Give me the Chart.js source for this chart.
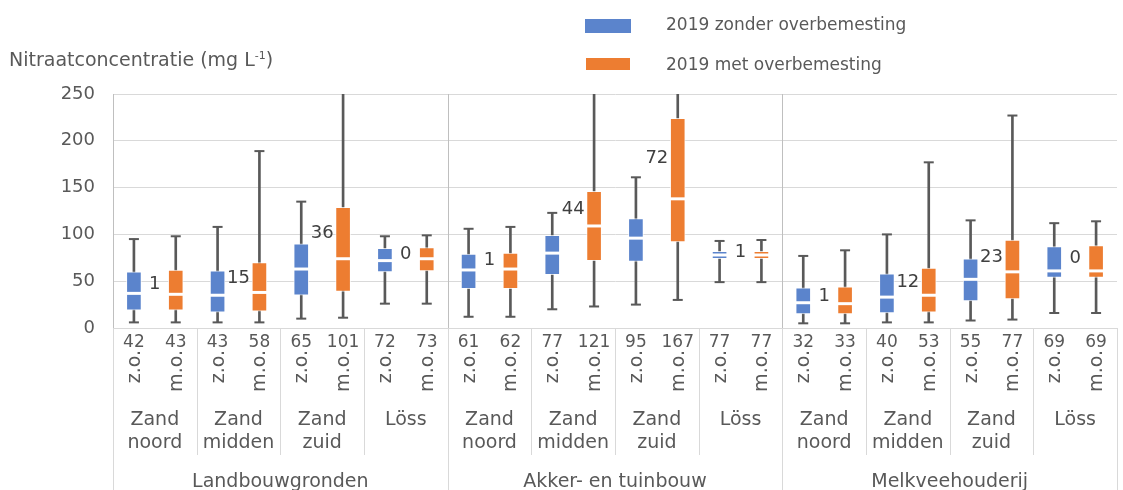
<!DOCTYPE html>
<html>
<head>
<meta charset="utf-8">
<script src="https://cdn.jsdelivr.net/npm/chart.js@4"></script>
<style>
  html, body { margin: 0; padding: 0; background: #fff; overflow: hidden; }
  #wrap { position: relative; width: 1128px; height: 490px; font-family: "DejaVu Sans", Verdana, sans-serif; color: #595959; }
  #c { position: absolute; left: 0; top: 0; }
  .txt { position: absolute; font-size: 17px; line-height: 22px; white-space: nowrap; }
  .title { font-size: 19px; }
  .title sup { font-size: 11px; vertical-align: 7px; line-height: 0; }
  .swatch { position: absolute; }
</style>
</head>
<body>
<div id="wrap">
  <canvas id="c" width="1128" height="490"></canvas>
  <div class="txt title" style="left:9px; top:48px;">Nitraatconcentratie (mg L<sup>-1</sup>)</div>
  <div class="swatch" style="left:585px; top:19px; width:46px; height:14px; background:#5b84cc;"></div>
  <div class="txt" style="left:666px; top:13px;">2019 zonder overbemesting</div>
  <div class="swatch" style="left:586px; top:58px; width:44px; height:12px; background:#ed7d31;"></div>
  <div class="txt" style="left:666px; top:53px;">2019 met overbemesting</div>
</div>
<script>
// categories
const groups     = ['Landbouwgronden', 'Akker- en tuinbouw', 'Melkveehouderij'];
const regions    = [['Zand', 'noord'], ['Zand', 'midden'], ['Zand', 'zuid'], ['Löss']];
const treatments = ['z.o.', 'm.o.'];

// number of samples per box (shown under the axis)
const counts = [42, 43, 43, 58, 65, 101, 72, 73,
                61, 62, 77, 121, 95, 167, 77, 77,
                32, 33, 40, 53, 55, 77, 69, 69];

// box plot values (mg/L), z.o. / m.o. alternating; whiskers above 250 run off the chart
const minVals = [6, 6, 6, 6, 10, 11, 26, 26,
                 12, 12, 20, 23, 25, 30, 49, 49,
                 5, 5, 6, 6, 8, 9, 16, 16];
const q1Vals  = [19, 19, 17, 18, 35, 39, 60, 61,
                 42, 42, 57, 72, 71, 92, 74, 74,
                 15, 15, 16, 17, 29, 31, 54, 54];
const medVals = [37, 36, 35, 38, 63, 74, 72, 74,
                 62, 63, 80, 109, 96, 138, 78, 78,
                 27, 26, 33, 35, 52, 60, 61, 61];
const q3Vals  = [60, 62, 61, 70, 90, 129, 85, 86,
                 79, 80, 99, 146, 117, 224, 82, 82,
                 43, 44, 58, 64, 74, 94, 87, 88];
const maxVals = [95, 98, 108, 189, 135, 280, 98, 99,
                 106, 108, 123, 280, 161, 280, 93, 94,
                 77, 83, 100, 177, 115, 227, 112, 114];

// label between each pair and the value level it sits at
const pairLabels = ['1', '15', '36', '0', '1', '44', '72', '1', '1', '12', '23', '0'];
const pairLabelY = [47, 53, 101, 79, 72, 127, 181, 81, 34, 49, 76, 74];

const yTicks = [0, 50, 100, 150, 200, 250];

const BLUE = '#5b84cc', ORANGE = '#ed7d31', INK = '#595959';
const FONT = '"DejaVu Sans", Verdana, sans-serif';

const labels = counts.map(n => String(n));
const boxColors = counts.map((n, i) => i % 2 ? ORANGE : BLUE);

const axisLabels = {
  id: 'axisLabels',
  beforeDatasetsDraw(chart) {
    const ctx = chart.ctx, x = chart.scales.x, a = chart.chartArea;
    const step = x.getPixelForValue(1) - x.getPixelForValue(0);
    ctx.save();
    ctx.strokeStyle = '#bfbfbf';
    ctx.lineWidth = 1;
    for (let i = 8; i < counts.length; i += 8) {
      const px = Math.round(x.getPixelForValue(i) - step / 2) + 0.5;
      ctx.beginPath(); ctx.moveTo(px, a.top); ctx.lineTo(px, a.bottom); ctx.stroke();
    }
    ctx.restore();
  },
  afterDraw(chart) {
    const ctx = chart.ctx, x = chart.scales.x, y = chart.scales.y, a = chart.chartArea;
    const step = x.getPixelForValue(1) - x.getPixelForValue(0);
    const edge = i => x.getPixelForValue(i) - step / 2;
    ctx.save();

    // separators under the axis
    ctx.strokeStyle = '#d9d9d9';
    ctx.lineWidth = 1;
    for (let i = 0; i <= counts.length; i += 2) {
      const px = Math.round(edge(i)) + 0.5;
      const end = i % 8 === 0 ? chart.height : 455;
      ctx.beginPath(); ctx.moveTo(px, a.bottom); ctx.lineTo(px, end); ctx.stroke();
    }

    ctx.fillStyle = INK;
    ctx.font = '19px ' + FONT;

    // z.o. / m.o. rotated
    counts.forEach((n, i) => {
      ctx.save();
      ctx.translate(x.getPixelForValue(i) + 1, 350);
      ctx.rotate(-Math.PI / 2);
      ctx.textAlign = 'right';
      ctx.textBaseline = 'middle';
      ctx.fillText(treatments[i % 2], 0, 0);
      ctx.restore();
    });

    // region labels
    ctx.textAlign = 'center';
    ctx.textBaseline = 'middle';
    for (let k = 0; k < counts.length / 2; k++) {
      const cx = (edge(2 * k) + edge(2 * k + 2)) / 2;
      regions[k % 4].forEach((line, j) => ctx.fillText(line, cx, 420 + j * 23));
    }

    // group labels
    groups.forEach((g, k) => {
      const cx = (edge(8 * k) + edge(8 * k + 8)) / 2;
      ctx.fillText(g, cx, 482);
    });

    // labels between the pairs
    ctx.fillStyle = '#404040';
    ctx.font = '18px ' + FONT;
    pairLabels.forEach((t, k) => {
      const cx = (x.getPixelForValue(2 * k) + x.getPixelForValue(2 * k + 1)) / 2;
      ctx.fillText(t, cx, y.getPixelForValue(pairLabelY[k]));
    });
    ctx.restore();
  }
};

new Chart(document.getElementById('c'), {
  type: 'bar',
  data: {
    labels: labels,
    datasets: [
      {
        label: 'whisker',
        data: minVals.map((v, i) => [v, maxVals[i]]),
        backgroundColor: INK,
        barThickness: 2,
        grouped: false,
        clip: 0,
        order: 3
      },
      {
        label: 'box',
        data: q1Vals.map((v, i) => [v, q3Vals[i]]),
        backgroundColor: boxColors,
        borderColor: 'rgba(255,255,255,0.75)',
        borderWidth: 1,
        borderSkipped: false,
        barThickness: 15,
        grouped: false,
        order: 2
      },
      {
        type: 'line',
        label: 'median',
        data: medVals,
        showLine: false,
        pointStyle: 'line',
        pointRadius: 8,
        pointBorderWidth: 3,
        pointBorderColor: '#ffffff',
        order: 1
      },
      {
        type: 'line',
        label: 'min',
        data: minVals,
        showLine: false,
        pointStyle: 'line',
        pointRadius: 5,
        pointBorderWidth: 2,
        pointBorderColor: INK,
        clip: 0,
        order: 1
      },
      {
        type: 'line',
        label: 'max',
        data: maxVals,
        showLine: false,
        pointStyle: 'line',
        pointRadius: 5,
        pointBorderWidth: 2,
        pointBorderColor: INK,
        clip: 0,
        order: 1
      }
    ]
  },
  options: {
    responsive: false,
    animation: false,
    events: [],
    layout: { padding: { top: 94, left: 0, right: 0, bottom: 0 } },
    plugins: {
      legend : { display: false },
      title  : { display: false },
      tooltip: { enabled: false }
    },
    scales: {
      x: {
        offset: true,
        grid  : { display: false },
        border: { display: false },
        ticks : {
          color      : INK,
          font       : { family: FONT, size: 17 },
          padding    : -4,
          autoSkip   : false,
          maxRotation: 0,
          callback   : (v, i) => counts[i]
        },
        afterFit: s => { s.height = 162; }
      },
      y: {
        min: 0,
        max: 250,
        afterBuildTicks: s => { s.ticks = yTicks.map(v => ({ value: v })); },
        grid  : { color: '#d9d9d9', drawTicks: false },
        border: { color: '#bfbfbf' },
        ticks : {
          color  : INK,
          font   : { family: FONT, size: 18 },
          padding: 18
        },
        afterFit: s => { s.width = 113; }
      }
    }
  },
  plugins: [axisLabels]
});
</script>
</body>
</html>
